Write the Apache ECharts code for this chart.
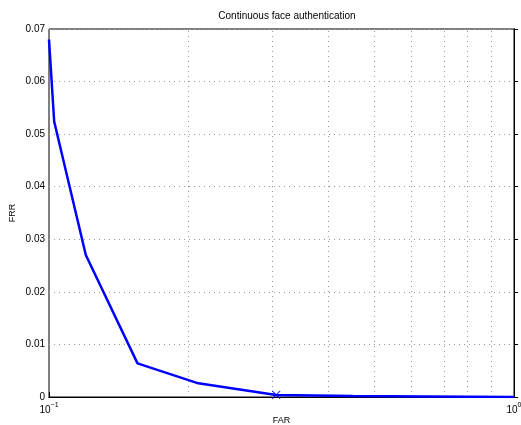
<!DOCTYPE html>
<html>
<head>
<meta charset="utf-8">
<script src="https://cdn.jsdelivr.net/npm/echarts@6/dist/echarts.min.js"></script>
<style>
  html, body { margin: 0; padding: 0; background: #fff; }
  #chart { width: 521px; height: 425px; }
</style>
</head>
<body>
<div id="chart"></div>
<script>
// values
var far = [0.1, 0.1026, 0.120, 0.155, 0.2095, 0.308, 0.45, 0.65, 1.0];
var frr = [0.068, 0.0524, 0.027, 0.0064, 0.0026, 0.0004, 0.0002, 0.0001, 0.0];
var markFar = [0.308];
var markFrr = [0.0004];
var minorTicks = [0.2, 0.3, 0.4, 0.5, 0.6, 0.7, 0.8, 0.9];

var chart = echarts.init(document.getElementById('chart'));

// log x drawn on a value axis holding log10 values
var lineData = far.map(function (v, i) { return [Math.log10(v), frr[i]]; });
var markData = markFar.map(function (v, i) { return [Math.log10(v), markFrr[i]]; });
var gridLines = minorTicks.map(function (v) { return { xAxis: Math.log10(v) }; });

var font = 'Liberation Sans, Arial, sans-serif';

var option = {
  animation: false,
  title: {
    text: 'Continuous face authentication',
    left: 282, top: 6, textAlign: 'center',
    textStyle: { fontSize: 10, fontWeight: 'normal', color: '#000', fontFamily: font }
  },
  grid: {
    left: 49, top: 29, right: 7, bottom: 28,
    outerBoundsMode: 'none',
    containLabel: false,
    show: true, borderColor: '#000', borderWidth: 1
  },
  xAxis: [
    {
      type: 'value', min: -1, max: 0, interval: 1,
      name: 'FAR', nameLocation: 'middle', nameGap: 24,
      nameMoveOverlap: false,
      nameTextStyle: { fontSize: 9, color: '#000', fontFamily: font, verticalAlign: 'middle' },
      axisLine: { lineStyle: { color: '#000' } },
      axisTick: { inside: true, length: 5, lineStyle: { color: '#000' } },
      splitLine: { show: false },
      axisLabel: {
        color: '#000', margin: 5,
        formatter: function (v) { return '{b|10}{s|' + (v === 0 ? '0' : '\u22121') + '}'; },
        rich: {
          b: { fontSize: 10, fontFamily: font, color: '#000', padding: [3, 0, 0, 0] },
          s: { fontSize: 7, fontFamily: font, color: '#000', verticalAlign: 'top' }
        }
      }
    },
    {
      type: 'value', min: -1, max: 0, interval: 1, position: 'top',
      axisLine: { lineStyle: { color: '#000' } },
      axisTick: { show: false },
      axisLabel: { show: false },
      splitLine: { show: false }
    }
  ],
  yAxis: [
    {
      type: 'value', min: 0, max: 0.07, interval: 0.01,
      name: 'FRR', nameLocation: 'middle', nameGap: 32,
      nameMoveOverlap: false,
      nameTextStyle: { fontSize: 9, color: '#000', fontFamily: font },
      axisLine: { show: true, lineStyle: { color: '#000' } },
      axisTick: { inside: true, length: 4, lineStyle: { color: '#000' } },
      axisLabel: {
        color: '#000', fontSize: 10, fontFamily: font, margin: 4,
        formatter: function (v) { return v === 0 ? '0' : v.toFixed(2); }
      },
      splitLine: { show: true, lineStyle: { color: '#999', type: [1, 4], width: 1 } }
    },
    {
      type: 'value', min: 0, max: 0.07, interval: 0.01, position: 'right',
      axisLine: { show: true, lineStyle: { color: '#000' } },
      axisTick: { show: false },
      axisLabel: { show: false },
      splitLine: { show: false }
    }
  ],
  series: [
    {
      type: 'line',
      data: lineData,
      symbol: 'none',
      lineStyle: { color: '#0000ff', width: 2.5 },
      z: 3,
      markLine: {
        silent: true,
        symbol: 'none',
        label: { show: false },
        lineStyle: { color: '#999', type: [1, 4], width: 1 },
        data: gridLines,
        z: 1
      }
    },
    {
      type: 'scatter',
      data: markData,
      symbol: 'path://M0,0L10,10M10,0L0,10',
      symbolSize: 8,
      itemStyle: { color: 'none', borderColor: '#0000ff', borderWidth: 1.2 },
      z: 4
    }
  ]
};

chart.setOption(option);
</script>
</body>
</html>
